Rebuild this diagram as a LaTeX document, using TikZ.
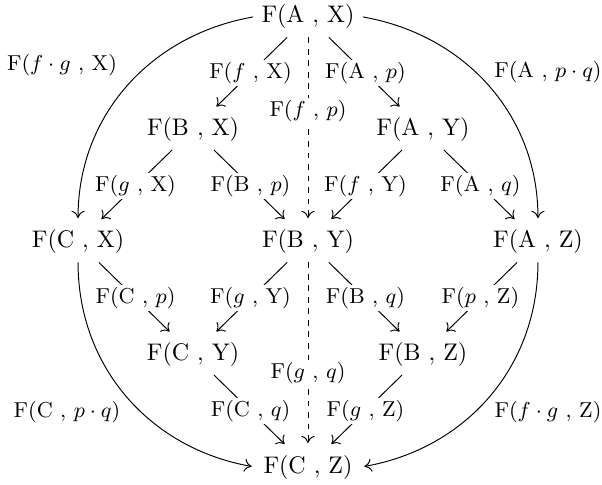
\documentclass[tikz,border=0pt]{standalone}
\usepackage{amsmath,amssymb}
\usepackage{tikz}
\usetikzlibrary{arrows.meta,positioning}
\tikzset{
  obj/.style={inner sep=3.3pt, font=\normalsize},
  lbl/.style={font=\small, inner sep=1pt, fill=white},
  side/.style={font=\small, inner sep=1pt},
  map/.style={-{To[length=3pt,width=5.5pt]}, line width=0.4pt, shorten >=1.5pt},
  dmap/.style={map, dash pattern=on 2.4pt off 2.4pt},
}
\newcommand{\Fo}[2]{\mathrm{F}(#1\ ,\,#2)}

\begin{document}
\begin{tikzpicture}
\useasboundingbox (-4.511,-3.559) rectangle (4.306,3.544);

% ---------------- objects ----------------
\node[obj] at ( 0,     3.296) (ax) {$\Fo{\mathrm{A}}{\mathrm{X}}$};
\node[obj] at (-1.684, 1.648) (bx) {$\Fo{\mathrm{B}}{\mathrm{X}}$};
\node[obj] at ( 1.684, 1.648) (ay) {$\Fo{\mathrm{A}}{\mathrm{Y}}$};
\node[obj] at (-3.368, 0    ) (cx) {$\Fo{\mathrm{C}}{\mathrm{X}}$};
\node[obj] at ( 0,     0    ) (by) {$\Fo{\mathrm{B}}{\mathrm{Y}}$};
\node[obj] at ( 3.368, 0    ) (az) {$\Fo{\mathrm{A}}{\mathrm{Z}}$};
\node[obj] at (-1.684,-1.648) (cy) {$\Fo{\mathrm{C}}{\mathrm{Y}}$};
\node[obj] at ( 1.684,-1.648) (bz) {$\Fo{\mathrm{B}}{\mathrm{Z}}$};
\node[obj] at ( 0,    -3.296) (cz) {$\Fo{\mathrm{C}}{\mathrm{Z}}$};

% ---------------- inner maps ----------------
\draw[map] (ax) -- node[lbl] (lfx) {$\Fo{f}{\mathrm{X}}$} (bx);
\draw[map] (ax) -- node[lbl] (lap) {$\Fo{\mathrm{A}}{p}$} (ay);
\draw[map] (bx) -- node[lbl] (lgx) {$\Fo{g}{\mathrm{X}}$} (cx);
\draw[map] (bx) -- node[lbl] (lbp) {$\Fo{\mathrm{B}}{p}$} (by);
\draw[map] (ay) -- node[lbl] (lfy) {$\Fo{f}{\mathrm{Y}}$} (by);
\draw[map] (ay) -- node[lbl] (laq) {$\Fo{\mathrm{A}}{q}$} (az);
\draw[map] (cx) -- node[lbl] (lcp) {$\Fo{\mathrm{C}}{p}$} (cy);
\draw[map] (by) -- node[lbl] (lgy) {$\Fo{g}{\mathrm{Y}}$} (cy);
\draw[map] (by) -- node[lbl] (lbq) {$\Fo{\mathrm{B}}{q}$} (bz);
\draw[map] (az) -- node[lbl] (lpz) {$\Fo{p}{\mathrm{Z}}$} (bz);
\draw[map] (cy) -- node[lbl] (lcq) {$\Fo{\mathrm{C}}{q}$} (cz);
\draw[map] (bz) -- node[lbl] (lgz) {$\Fo{g}{\mathrm{Z}}$} (cz);

% diagonals through the middle
\draw[dmap] (ax) -- node[lbl, pos=0.40] (lfp) {$\Fo{f}{p}$} (by);
\draw[dmap] (by) -- node[lbl, pos=0.60] (lgq) {$\Fo{g}{q}$} (cz);

% ---------------- outer maps ----------------
\draw[map] (ax.west)  to[out=190, in=90]  (cx.north);
\draw[map] (ax.east)  to[out=-10, in=90]  (az.north);
\draw[map] (cx.south) to[out=-90, in=170] (cz.west);
\draw[map] (az.south) to[out=-90, in=10]  (cz.east);

\node[side] at (-3.603, 2.592) (lfgx) {$\Fo{f\cdot g}{\mathrm{X}}$};
\node[side] at ( 3.515, 2.490) (lapq) {$\Fo{\mathrm{A}}{p\cdot q}$};
\node[side] at (-3.530,-2.490) (lcpq) {$\Fo{\mathrm{C}}{p\cdot q}$};
\node[side] at ( 3.515,-2.490) (lfgz) {$\Fo{f\cdot g}{\mathrm{Z}}$};
\end{tikzpicture}
\end{document}
